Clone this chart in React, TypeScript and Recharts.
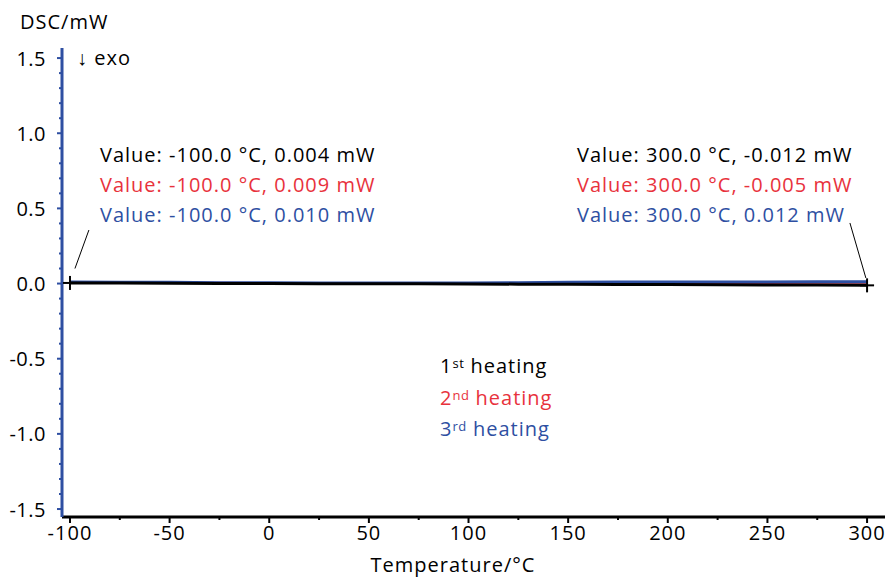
import React from 'react';
import { ComposedChart, Line, XAxis, YAxis, ReferenceLine, ReferenceDot } from 'recharts';

// DSC heating runs, temperature in °C, heat flow in mW
const temps = [-100, -75, -50, -25, 0, 25, 50, 75, 100, 125, 150, 175, 200, 225, 250, 275, 300];
const heating1 = [0.004, 0.003, 0.002, 0.001, 0.000, -0.001, -0.002, -0.002, -0.003, -0.004, -0.005, -0.006, -0.007, -0.008, -0.009, -0.010, -0.012];
const heating2 = [0.009, 0.008, 0.006, 0.005, 0.004, 0.003, 0.002, 0.001, 0.000, 0.000, -0.001, -0.001, -0.002, -0.003, -0.003, -0.004, -0.005];
const heating3 = [0.010, 0.009, 0.008, 0.006, 0.005, 0.004, 0.003, 0.003, 0.004, 0.006, 0.009, 0.010, 0.011, 0.011, 0.011, 0.012, 0.012];

const xMajor = [-100, -50, 0, 50, 100, 150, 200, 250, 300];
const xTicks = [-100, -75, -50, -25, 0, 25, 50, 75, 100, 125, 150, 175, 200, 225, 250, 275, 300];
const yMajor = [-1.5, -1.0, -0.5, 0.0, 0.5, 1.0, 1.5];
const yTicks = Array.from({ length: 31 }, (_, i) => Math.round((-1.5 + i * 0.1) * 10) / 10);

const legend = [
  { n: '1', sup: 'st', color: '#000000' },
  { n: '2', sup: 'nd', color: '#e8323c' },
  { n: '3', sup: 'rd', color: '#2e4fa2' },
];

const leftValues = [
  { text: 'Value: -100.0 °C, 0.004 mW', color: '#000000' },
  { text: 'Value: -100.0 °C, 0.009 mW', color: '#e8323c' },
  { text: 'Value: -100.0 °C, 0.010 mW', color: '#2e4fa2' },
];
const rightValues = [
  { text: 'Value: 300.0 °C, -0.012 mW', color: '#000000' },
  { text: 'Value: 300.0 °C, -0.005 mW', color: '#e8323c' },
  { text: 'Value: 300.0 °C, 0.012 mW', color: '#2e4fa2' },
];

const data = temps.map((t, i) => ({ t, h1: heating1[i], h2: heating2[i], h3: heating3[i] }));

const FONT = '"Open Sans", "Noto Sans", sans-serif';
const BLUE = '#2e4fa2';

const YTick = (props: any) => {
  const { x, y, payload } = props;
  const v = payload.value;
  const major = yMajor.some((m) => Math.abs(m - v) < 1e-6);
  return (
    <g>
      <line x1={x - (major ? 5 : 3)} x2={x} y1={y} y2={y} stroke={BLUE} strokeWidth={2} />
      {major && (
        <text x={x - 16} y={y} textAnchor="end" dominantBaseline="central" fontSize={20} letterSpacing={0.5} fontFamily={FONT} fill="#000">
          {v.toFixed(1)}
        </text>
      )}
    </g>
  );
};

const XTick = (props: any) => {
  const { x, y, payload } = props;
  const v = payload.value;
  const major = xMajor.includes(v);
  return (
    <g>
      <line x1={x} x2={x} y1={y} y2={y + (major ? 6 : 3)} stroke="#000" strokeWidth={2} />
      {major && (
        <text x={x} y={y + 15} textAnchor="middle" dominantBaseline="central" fontSize={20} letterSpacing={1} fontFamily={FONT} fill="#000">
          {v}
        </text>
      )}
    </g>
  );
};

const Cross = (props: any) => {
  const { cx, cy } = props;
  return (
    <g>
      <line x1={cx - 7} x2={cx + 7} y1={cy} y2={cy} stroke="#000" strokeWidth={2} />
      <line x1={cx} x2={cx} y1={cy - 7} y2={cy + 7} stroke="#000" strokeWidth={2} />
    </g>
  );
};

const textStyle: React.CSSProperties = {
  position: 'absolute',
  fontFamily: FONT,
  fontSize: 20,
  letterSpacing: 1,
  lineHeight: '26px',
  whiteSpace: 'nowrap',
};

export default function App() {
  return (
    <div style={{ position: 'absolute', left: 0, top: 0, width: 889, height: 577, background: '#fff' }}>
      <ComposedChart width={889} height={577} data={data} margin={{ top: 48, right: 4, bottom: 10, left: 0 }}>
        <XAxis
          dataKey="t"
          type="number"
          domain={[-104, 309]}
          ticks={xTicks}
          interval={0}
          allowDataOverflow
          height={50}
          tickSize={0}
          tickMargin={0}
          tickLine={false}
          axisLine={{ stroke: '#000', strokeWidth: 3 }}
          tick={<XTick />}
        />
        <YAxis
          type="number"
          domain={[-1.553, 1.567]}
          ticks={yTicks}
          interval={0}
          allowDataOverflow
          width={62}
          tickSize={0}
          tickMargin={0}
          tickLine={false}
          axisLine={{ stroke: BLUE, strokeWidth: 3 }}
          tick={<YTick />}
        />
        <Line dataKey="h2" stroke="#e8323c" strokeWidth={2} dot={false} isAnimationActive={false} />
        <Line dataKey="h3" stroke={BLUE} strokeWidth={3} dot={false} isAnimationActive={false} />
        <Line dataKey="h1" stroke="#000" strokeWidth={3} dot={false} isAnimationActive={false} />
        <ReferenceLine segment={[{ x: -97.5, y: 0.1 }, { x: -90.5, y: 0.356 }]} stroke="#000" strokeWidth={1} ifOverflow="visible" />
        <ReferenceLine segment={[{ x: 291.4, y: 0.403 }, { x: 299.4, y: 0.037 }]} stroke="#000" strokeWidth={1} ifOverflow="visible" />
        <ReferenceDot x={-100} y={heating1[0]} r={0} shape={<Cross />} ifOverflow="visible" />
        <ReferenceDot x={300} y={heating1[heating1.length - 1]} r={0} shape={<Cross />} ifOverflow="visible" />
      </ComposedChart>

      <div style={{ ...textStyle, left: 20, top: 9 }}>DSC/mW</div>
      <div style={{ ...textStyle, left: 77, top: 45 }}>↓ exo</div>
      <div style={{ ...textStyle, left: 0, width: 906, textAlign: 'center', top: 552 }}>Temperature/°C</div>

      {leftValues.map((r, i) => (
        <div key={'l' + i} style={{ ...textStyle, left: 100, top: 142 + i * 30, color: r.color }}>{r.text}</div>
      ))}
      {rightValues.map((r, i) => (
        <div key={'r' + i} style={{ ...textStyle, left: 577, top: 142 + i * 30, color: r.color }}>{r.text}</div>
      ))}

      {legend.map((l, i) => (
        <div key={'g' + i} style={{ ...textStyle, left: 440, top: 353 + i * 31.5, color: l.color }}>
          {l.n}
          <sup style={{ fontSize: 13, verticalAlign: 'top', lineHeight: '20px', letterSpacing: 0.5 }}>{l.sup}</sup> heating
        </div>
      ))}
    </div>
  );
}
